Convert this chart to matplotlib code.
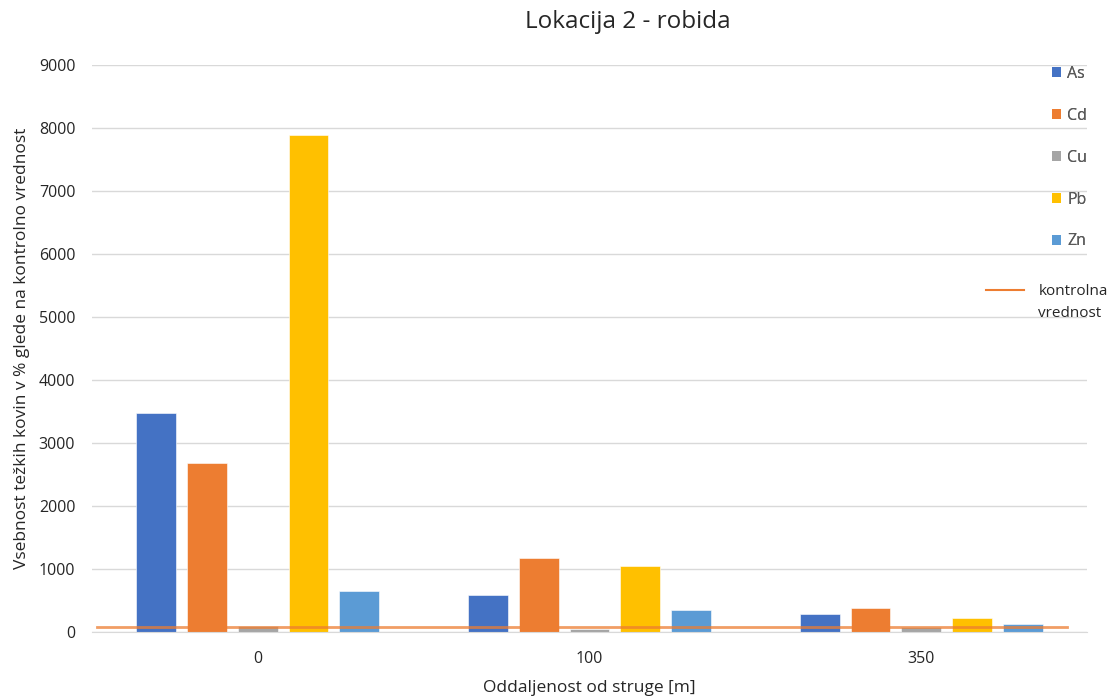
import numpy as np
import matplotlib
matplotlib.use('Agg')
from matplotlib import pyplot as plt
from matplotlib.patches import Patch
from matplotlib.lines import Line2D

# data: content of heavy metals in % relative to control value
razdalje = ['0', '100', '350']
kovine = ['As', 'Cd', 'Cu', 'Pb', 'Zn']
As = [3480, 590, 290]
Cd = [2690, 1180, 380]
Cu = [100, 50, 80]
Pb = [7890, 1050, 220]
Zn = [650, 350, 130]
kontrola = 80

barve = ['#4472C4', '#ED7D31', '#A5A5A5', '#FFC000', '#5B9BD5']
serije = [As, Cd, Cu, Pb, Zn]

plt.rcParams['font.family'] = ['Open Sans', 'DejaVu Sans']
siva = '#595959'
temna = '#262626'

fig = plt.figure(figsize=(11.12, 6.97), dpi=100)
ax = fig.add_axes([0.0827, 0.0933, 0.895, 0.8134])

x = np.arange(len(razdalje))
pitch = 0.153
width = 0.12
for i, (vals, c) in enumerate(zip(serije, barve)):
    ax.bar(x + (i - 2) * pitch, vals, width=width, color=c,
           edgecolor='white', linewidth=0.4, zorder=2)

# control value line
ax.axhline(kontrola, xmin=0.005, xmax=0.98, color='#ED7D31', lw=2,
           alpha=0.75, zorder=3)

ax.set_xlim(-0.5, 2.5)
ax.set_ylim(0, 9000)
ax.set_yticks(np.arange(0, 9001, 1000))
ax.set_xticks(x)
ax.set_xticklabels(razdalje)
ax.yaxis.grid(True, color='#D9D9D9', lw=1, zorder=0)
ax.set_axisbelow(True)
for s in ['top', 'right', 'left']:
    ax.spines[s].set_visible(False)
ax.spines['bottom'].set_color('#D9D9D9')
ax.tick_params(axis='both', length=0, labelsize=11.5, colors=temna)
ax.tick_params(axis='x', pad=14)
ax.tick_params(axis='y', pad=12)

fig.text(0.565, 0.968, 'Lokacija 2 - robida', fontsize=17.5, color=temna,
         ha='center', va='center')
ax.set_xlabel('Oddaljenost od struge [m]', fontsize=12.5, color=temna, labelpad=9)
ax.set_ylabel('Vsebnost težkih kovin v % glede na kontrolno vrednost',
              fontsize=12.5, color=temna, labelpad=6)

# legends
h1 = [Patch(facecolor=c, label=k) for k, c in zip(kovine, barve)]
leg1 = fig.legend(handles=h1, loc='upper left', bbox_to_anchor=(0.933, 0.926),
                  frameon=False, fontsize=11.5, labelspacing=1.62,
                  handlelength=0.6, handleheight=0.6, handletextpad=0.35,
                  labelcolor=siva)
h2 = [Line2D([0], [0], color='#ED7D31', lw=1.5, label='kontrolna'),
      Line2D([0], [0], color='none', label='vrednost')]
fig.legend(handles=h2, loc='upper left', bbox_to_anchor=(0.874, 0.612),
           frameon=False, fontsize=11, labelspacing=0.42,
           handlelength=2.5, handletextpad=0.95, labelcolor=temna)
fig.add_artist(leg1)

plt.savefig('out.png', dpi=100)
